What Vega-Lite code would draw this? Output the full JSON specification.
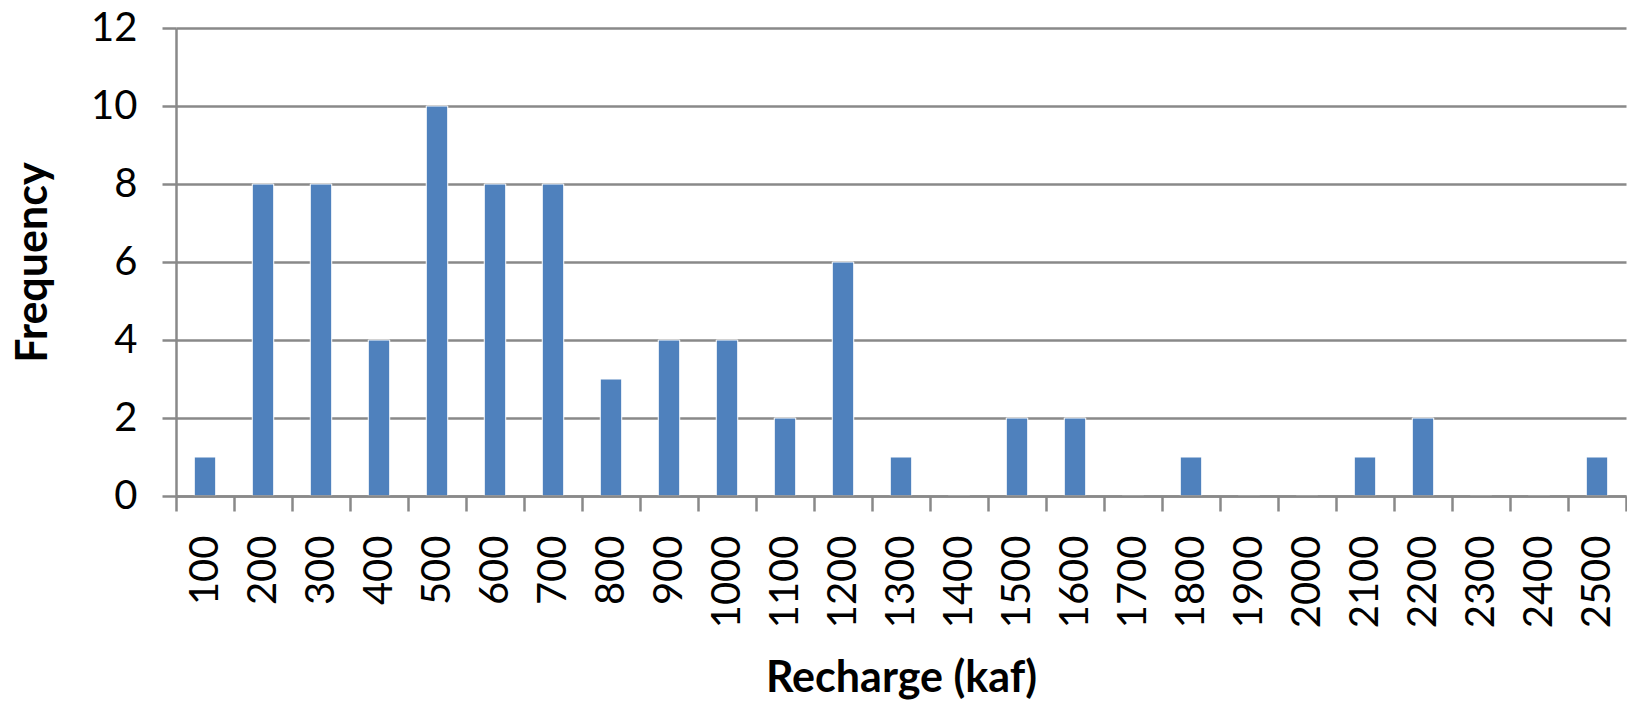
{
  "$schema": "https://vega.github.io/schema/vega-lite/v6.json",
  "autosize": {"type": "none"},
  "width": 1450,
  "height": 468,
  "padding": {"left": 176, "top": 28, "right": 1, "bottom": 207},
  "background": "white",
  "data": {
    "values": [
      {"bin": "100", "freq": 1}, {"bin": "200", "freq": 8}, {"bin": "300", "freq": 8},
      {"bin": "400", "freq": 4}, {"bin": "500", "freq": 10}, {"bin": "600", "freq": 8},
      {"bin": "700", "freq": 8}, {"bin": "800", "freq": 3}, {"bin": "900", "freq": 4},
      {"bin": "1000", "freq": 4}, {"bin": "1100", "freq": 2}, {"bin": "1200", "freq": 6},
      {"bin": "1300", "freq": 1}, {"bin": "1400", "freq": 0}, {"bin": "1500", "freq": 2},
      {"bin": "1600", "freq": 2}, {"bin": "1700", "freq": 0}, {"bin": "1800", "freq": 1},
      {"bin": "1900", "freq": 0}, {"bin": "2000", "freq": 0}, {"bin": "2100", "freq": 1},
      {"bin": "2200", "freq": 2}, {"bin": "2300", "freq": 0}, {"bin": "2400", "freq": 0},
      {"bin": "2500", "freq": 1}
    ]
  },
  "mark": {"type": "bar", "color": "#4F81BD", "stroke": "#FFFFFF", "strokeWidth": 1, "width": {"band": 0.37}},
  "encoding": {
    "x": {
      "field": "bin", "type": "ordinal", "sort": null,
      "scale": {"paddingInner": 0, "paddingOuter": 0},
      "axis": {
        "title": "Recharge (kaf)",
        "labelAngle": 270, "labelAlign": "right", "labelBaseline": "middle",
        "labelFont": "Lato", "labelFontSize": 40, "labelColor": "#000000", "labelPadding": 24,
        "tickBand": "extent", "tickSize": 15, "tickWidth": 2.5, "tickColor": "#898989",
        "domainColor": "#898989", "domainWidth": 2.5,
        "titleFont": "Lato", "titleFontSize": 43, "titleFontWeight": "bold", "titleColor": "#000000",
        "titlePadding": 30, "zindex": 1
      }
    },
    "y": {
      "field": "freq", "type": "quantitative",
      "scale": {"domain": [0, 12], "nice": false},
      "axis": {
        "title": "Frequency", "values": [0, 2, 4, 6, 8, 10, 12],
        "grid": true, "gridColor": "#898989", "gridWidth": 2.5, "gridOpacity": 1,
        "labelFont": "Lato", "labelFontSize": 40, "labelColor": "#000000", "labelPadding": 25,
        "tickSize": 14, "tickWidth": 2.5, "tickColor": "#898989",
        "domainColor": "#898989", "domainWidth": 2.5,
        "titleFont": "Lato", "titleFontSize": 43, "titleFontWeight": "bold", "titleColor": "#000000",
        "titlePadding": 35
      }
    }
  },
  "config": {"view": {"stroke": null}}
}
